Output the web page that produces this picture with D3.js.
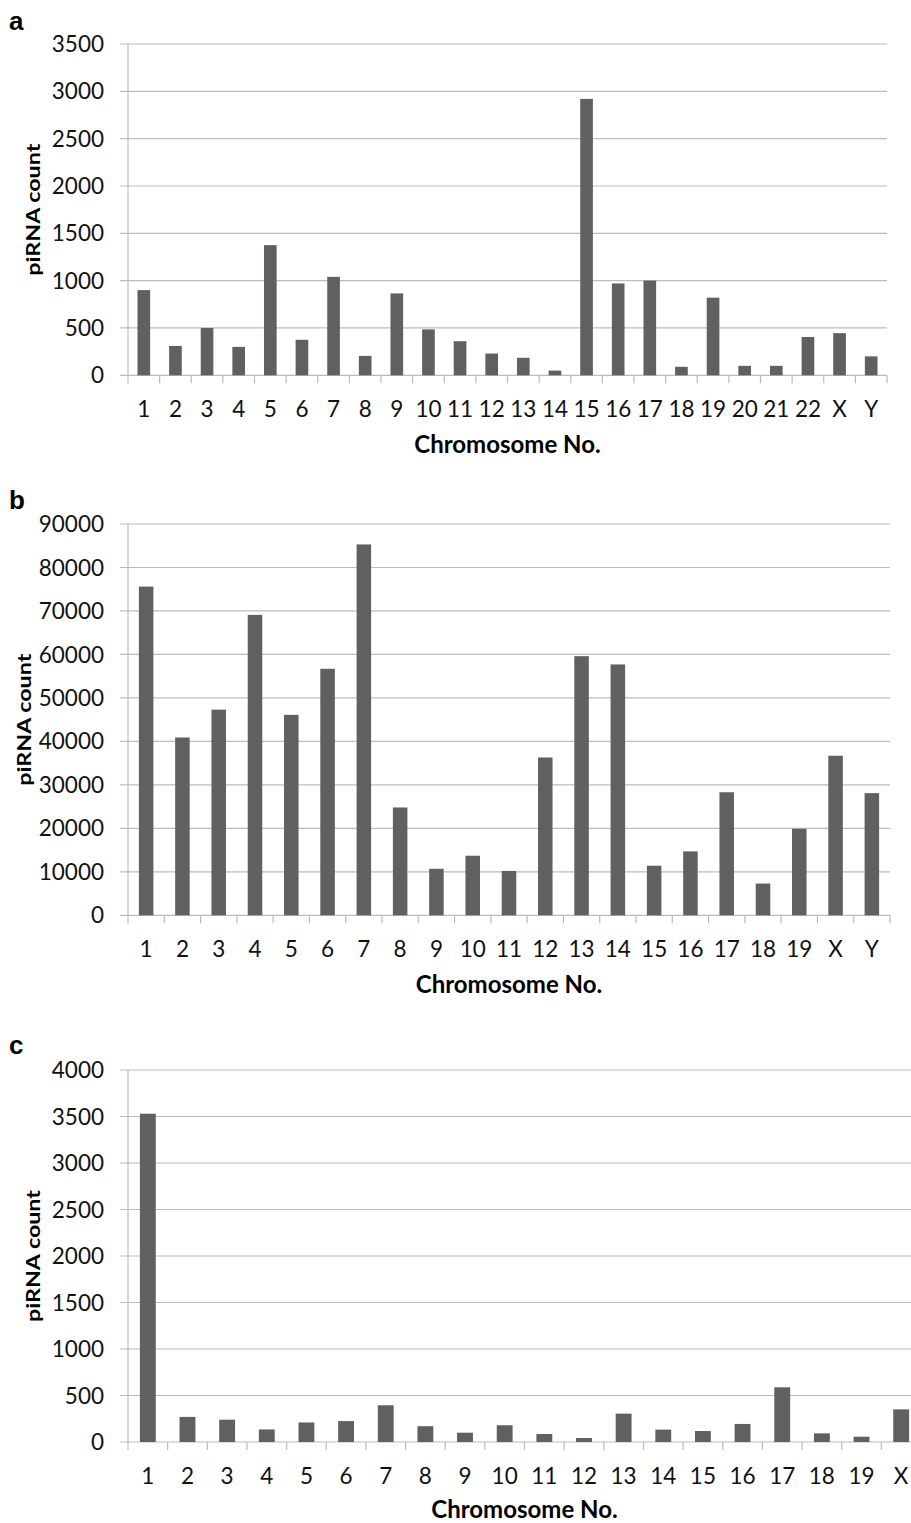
<!DOCTYPE html>
<html>
<head>
<meta charset="utf-8">
<script src="https://cdn.jsdelivr.net/npm/d3@7"></script>
<style>
  body { margin: 0; background: #fff; }
  svg { display: block; }
</style>
</head>
<body>
<div id="graphic"></div>
<script>
'use strict';

// Panel a
const catsA = [`1`, `2`, `3`, `4`, `5`, `6`, `7`, `8`, `9`, `10`, `11`, `12`, `13`, `14`, `15`, `16`, `17`, `18`, `19`, `20`, `21`, `22`, `X`, `Y`];
const valsA = [900, 310, 500, 300, 1375, 375, 1040, 205, 865, 485, 360, 230, 185, 50, 2920, 970, 1000, 90, 820, 100, 100, 405, 445, 200];
const ticksA = [0, 500, 1000, 1500, 2000, 2500, 3000, 3500];

// Panel b
const catsB = [`1`, `2`, `3`, `4`, `5`, `6`, `7`, `8`, `9`, `10`, `11`, `12`, `13`, `14`, `15`, `16`, `17`, `18`, `19`, `X`, `Y`];
const valsB = [75600, 40900, 47300, 69100, 46100, 56700, 85300, 24800, 10700, 13700, 10200, 36300, 59600, 57700, 11400, 14700, 28300, 7300, 19900, 36700, 28100];
const ticksB = [0, 10000, 20000, 30000, 40000, 50000, 60000, 70000, 80000, 90000];

// Panel c
const catsC = [`1`, `2`, `3`, `4`, `5`, `6`, `7`, `8`, `9`, `10`, `11`, `12`, `13`, `14`, `15`, `16`, `17`, `18`, `19`, `X`];
const valsC = [3530, 270, 240, 135, 210, 225, 395, 170, 100, 180, 86, 43, 305, 133, 118, 194, 588, 93, 57, 351];
const ticksC = [0, 500, 1000, 1500, 2000, 2500, 3000, 3500, 4000];

const width = 911;
const height = 1523;
const font = `Lato, 'Open Sans', sans-serif`;

const svg = d3
  .select(`div#graphic`)
  .append(`svg`)
  .attr(`width`, width)
  .attr(`height`, height)
  .attr(`viewBox`, [0, 0, width, height]);

const panel = (p) => {
  const g = svg.append(`g`);

  const band = d3.scaleBand().domain(p.cats).range([p.left, p.right]);
  const x = d3.scaleBand().domain(p.cats).range([p.left, p.right]).paddingInner(0.6).paddingOuter(0.3);
  const y = d3.scaleLinear().domain([0, p.ticks[p.ticks.length - 1]]).range([p.bottom, p.top]);

  // gridlines + y ticks
  g.append(`g`)
    .selectAll(`line`)
    .data(p.ticks)
    .join(`line`)
    .attr(`x1`, p.left - 8)
    .attr(`x2`, p.right)
    .attr(`y1`, (d) => y(d))
    .attr(`y2`, (d) => y(d))
    .attr(`stroke`, `#bcbcbc`)
    .attr(`stroke-width`, 1.2);

  // y axis line
  g.append(`line`)
    .attr(`x1`, p.left)
    .attr(`x2`, p.left)
    .attr(`y1`, p.top)
    .attr(`y2`, p.bottom + 8)
    .attr(`stroke`, `#bcbcbc`)
    .attr(`stroke-width`, 1.2);

  // category boundary ticks
  g.append(`g`)
    .selectAll(`line`)
    .data(p.cats)
    .join(`line`)
    .attr(`x1`, (d) => band(d) + band.bandwidth())
    .attr(`x2`, (d) => band(d) + band.bandwidth())
    .attr(`y1`, p.bottom)
    .attr(`y2`, p.bottom + 8)
    .attr(`stroke`, `#bcbcbc`)
    .attr(`stroke-width`, 1.2);

  // bars
  g.append(`g`)
    .selectAll(`rect`)
    .data(p.vals)
    .join(`rect`)
    .attr(`x`, (d, i) => x(p.cats[i]))
    .attr(`width`, x.bandwidth())
    .attr(`y`, (d) => y(d))
    .attr(`height`, (d) => y(0) - y(d))
    .attr(`fill`, `#606060`);

  // y tick labels
  g.append(`g`)
    .attr(`font-family`, font)
    .attr(`font-size`, 22.5)
    .attr(`fill`, `#111`)
    .attr(`text-anchor`, `end`)
    .selectAll(`text`)
    .data(p.ticks)
    .join(`text`)
    .attr(`x`, p.left - 24)
    .attr(`y`, (d) => y(d))
    .attr(`dy`, `0.36em`)
    .text((d) => d);

  // x tick labels
  g.append(`g`)
    .attr(`font-family`, font)
    .attr(`font-size`, 22.5)
    .attr(`fill`, `#111`)
    .attr(`text-anchor`, `middle`)
    .selectAll(`text`)
    .data(p.cats)
    .join(`text`)
    .attr(`x`, (d) => band(d) + band.bandwidth() / 2)
    .attr(`y`, p.bottom + 34)
    .attr(`dy`, `0.36em`)
    .text((d) => d);

  // x title
  g.append(`text`)
    .attr(`font-family`, font)
    .attr(`font-weight`, `bold`)
    .attr(`font-size`, 24)
    .attr(`text-anchor`, `middle`)
    .attr(`x`, (p.left + p.right) / 2)
    .attr(`y`, p.bottom + p.xTitleDy)
    .attr(`dy`, `0.36em`)
    .text(`Chromosome No.`);

  // y title (stretched to the reference's length, it is thin and long there)
  g.append(`text`)
    .attr(`font-family`, font)
    .attr(`font-weight`, `bold`)
    .attr(`font-size`, p.yTitleSize)
    .attr(`text-anchor`, `middle`)
    .attr(`textLength`, 132)
    .attr(`lengthAdjust`, `spacingAndGlyphs`)
    .attr(`transform`, `translate(${p.yTitleX},${(p.top + p.bottom) / 2}) rotate(-90)`)
    .attr(`dy`, `0.36em`)
    .text(`piRNA count`);

  // panel letter
  g.append(`text`)
    .attr(`font-family`, `'Liberation Sans', Arial, sans-serif`)
    .attr(`font-weight`, `bold`)
    .attr(`font-size`, 26)
    .attr(`x`, 9)
    .attr(`y`, p.letterY)
    .text(p.letter);
};

panel({ letter: `a`, letterY: 30, yTitleX: 34, yTitleSize: 18, xTitleDy: 69, cats: catsA, vals: valsA, ticks: ticksA, left: 128, right: 887, top: 44, bottom: 375.3 });
panel({ letter: `b`, letterY: 509, yTitleX: 24, yTitleSize: 19, xTitleDy: 69, cats: catsB, vals: valsB, ticks: ticksB, left: 128, right: 890, top: 524, bottom: 915.3 });
panel({ letter: `c`, letterY: 1054, yTitleX: 34, yTitleSize: 18, xTitleDy: 67, cats: catsC, vals: valsC, ticks: ticksC, left: 128, right: 921, top: 1070, bottom: 1442 });
</script>
</body>
</html>
